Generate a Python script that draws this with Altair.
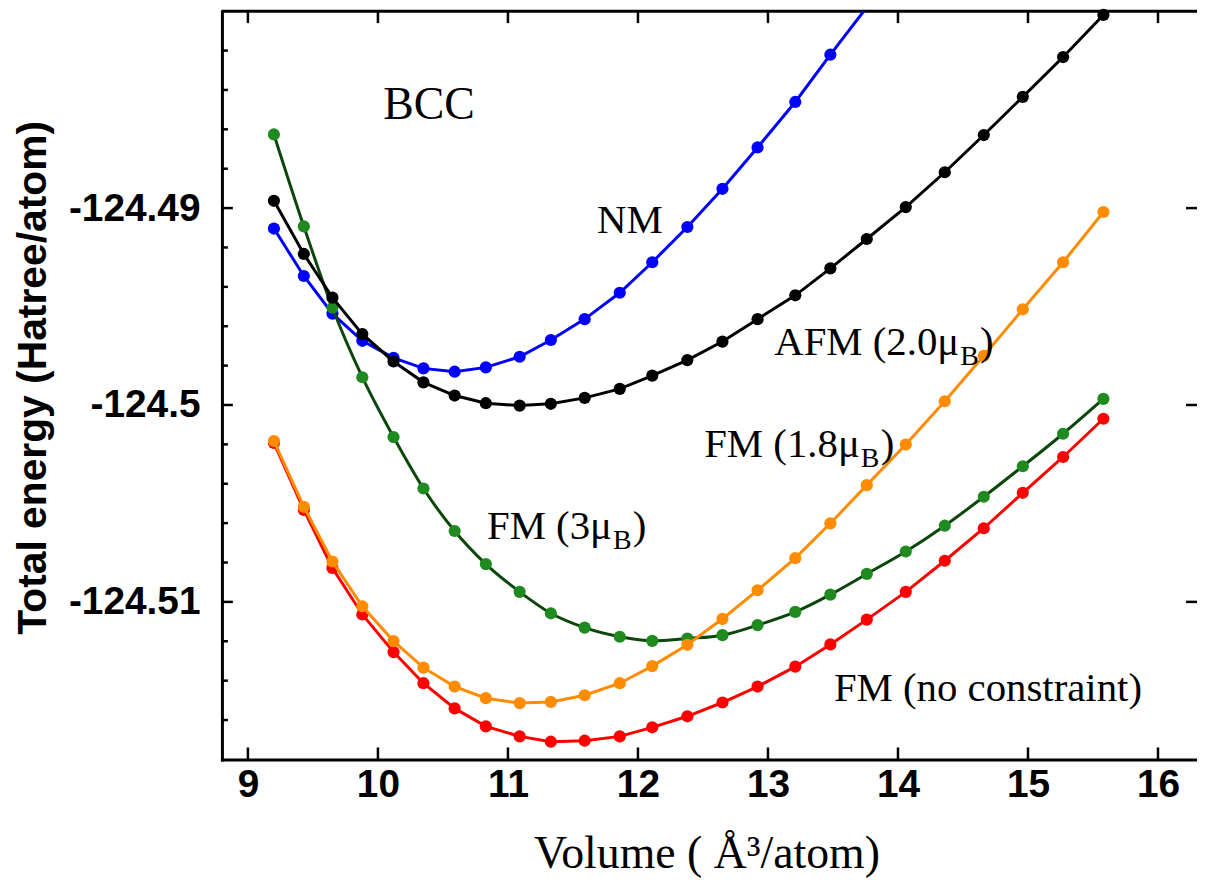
import altair as alt
import pandas as pd

# ---- data ----
volume = [9.20, 9.43, 9.65, 9.88, 10.12, 10.35, 10.59, 10.83, 11.09, 11.33,
          11.59, 11.86, 12.11, 12.38, 12.65, 12.92, 13.21, 13.48, 13.76, 14.06,
          14.36, 14.66, 14.96, 15.27, 15.58]

e_fm_free = [-124.50193, -124.50533, -124.50828, -124.51064, -124.51255, -124.51413,
             -124.51541, -124.51632, -124.51683, -124.51710, -124.51705, -124.51683,
             -124.51637, -124.51581, -124.51511, -124.51430, -124.51329, -124.51216,
             -124.51090, -124.50949, -124.50791, -124.50626, -124.50446, -124.50264,
             -124.50070]

e_fm_18 = [-124.50183, -124.50517, -124.50795, -124.51022, -124.51199, -124.51334,
           -124.51430, -124.51489, -124.51514, -124.51508, -124.51474, -124.51413,
           -124.51326, -124.51218, -124.51086, -124.50941, -124.50778, -124.50601,
           -124.50407, -124.50201, -124.49981, -124.49750, -124.49514, -124.49275,
           -124.49020]

e_fm_3 = [-124.48626, -124.49093, -124.49506, -124.49859, -124.50163, -124.50424,
          -124.50640, -124.50808, -124.50949, -124.51058, -124.51131, -124.51177,
          -124.51198, -124.51186, -124.51169, -124.51118, -124.51051, -124.50963,
          -124.50858, -124.50744, -124.50613, -124.50466, -124.50311, -124.50146,
          -124.49969]

e_afm = [-124.48963, -124.49233, -124.49455, -124.49640, -124.49779, -124.49885,
         -124.49952, -124.49991, -124.50003, -124.49994, -124.49964, -124.49918,
         -124.49851, -124.49772, -124.49678, -124.49564, -124.49443, -124.49306,
         -124.49157, -124.48995, -124.48818, -124.48629, -124.48435, -124.48233,
         -124.48019]

# NM: last value lies just above the top of the frame (line leaves the plot there)
e_nm = [-124.49104, -124.49345, -124.49536, -124.49674, -124.49761, -124.49814,
        -124.49831, -124.49809, -124.49755, -124.49670, -124.49564, -124.49430,
        -124.49275, -124.49096, -124.48902, -124.48692, -124.48461, -124.48221,
        -124.47980]

x_ticks = [9, 10, 11, 12, 13, 14, 15, 16]
y_major = [-124.51, -124.50, -124.49]
y_minor = [-124.516, -124.514, -124.512, -124.508, -124.506, -124.504, -124.502,
           -124.498, -124.496, -124.494, -124.492, -124.488, -124.486, -124.484,
           -124.482]

# annotations (plain labels, left aligned at baseline)
ann_plain = pd.DataFrame({
    "label": ["NM", "FM (no constraint)"],
    "x": [11.685, 13.507],
    "y": [-124.49127, -124.51502],
})
ann_bcc = pd.DataFrame({"label": ["BCC"], "x": [10.04], "y": [-124.48546]})
# labels with subscript B: main part ends at x
ann_sub = pd.DataFrame({
    "label": ["AFM (2.0\u03bc", "FM (1.8\u03bc", "FM (3\u03bc"],
    "x": [14.471, 13.706, 11.80],
    "y": [-124.49748, -124.50264, -124.50683],
})

W, H = 980, 752
xs = alt.Scale(domain=[8.8, 16.3], nice=False, zero=False)
ys = alt.Scale(domain=[-124.518, -124.48], nice=False, zero=False)

xaxis = alt.Axis(values=x_ticks, format="d", ticks=False, tickSize=0, grid=False,
                 domain=True, domainColor="black", domainWidth=3, domainCap="square",
                 labelFont="Liberation Sans", labelFontWeight="bold", labelFontSize=39,
                 labelColor="black", labelPadding=6, labelFlush=False, labelOverlap=False,
                 title="Volume ( \u00c5\u00b3/atom)", titleFont="Liberation Serif",
                 titleFontWeight="normal", titleFontSize=46, titleColor="black",
                 titleX=487, titleY=109, titleBaseline="alphabetic", titleAlign="center")
yaxis = alt.Axis(values=y_major, labelExpr="'-' + format(-datum.value, '.2~f')",
                 ticks=False, tickSize=0, grid=False, domain=True, domainColor="black",
                 domainWidth=3, domainCap="square",
                 labelFont="Liberation Sans", labelFontWeight="bold", labelFontSize=39,
                 labelColor="black", labelPadding=22, labelFlush=False, labelOverlap=False,
                 title="Total energy (Hatree/atom)", titleFont="Liberation Sans",
                 titleFontWeight="bold", titleFontSize=41, titleColor="black",
                 titleAngle=270, titleX=-177, titleY=368, titleBaseline="alphabetic",
                 titleAlign="center")


def X(f):
    return alt.X(f, type="quantitative", scale=xs, axis=xaxis)


def Y(f):
    return alt.Y(f, type="quantitative", scale=ys, axis=yaxis)


def series_df(vals):
    return pd.DataFrame({"V": volume[:len(vals)], "E": vals})


layers = []

# inward tick marks
ymaj = pd.DataFrame({"v": y_major})
ymin = pd.DataFrame({"v": y_minor})
xt = pd.DataFrame({"t": x_ticks})
layers.append(alt.Chart(ymaj).mark_rule(color="black", strokeWidth=2.5)
              .encode(y=Y("v"), x=alt.value(0), x2=alt.value(11)))
layers.append(alt.Chart(ymin).mark_rule(color="black", strokeWidth=2.5)
              .encode(y=Y("v"), x=alt.value(0), x2=alt.value(6)))
layers.append(alt.Chart(ymaj).mark_rule(color="black", strokeWidth=2.5)
              .encode(y=Y("v"), x=alt.value(W - 11), x2=alt.value(W)))
layers.append(alt.Chart(xt).mark_rule(color="black", strokeWidth=2.5)
              .encode(x=X("t"), y=alt.value(H), y2=alt.value(H - 12)))
layers.append(alt.Chart(xt).mark_rule(color="black", strokeWidth=2.5)
              .encode(x=X("t"), y=alt.value(0), y2=alt.value(12)))
# top frame line
layers.append(alt.Chart(pd.DataFrame({"t": [0]})).mark_rule(color="black", strokeWidth=3)
              .encode(x=alt.value(0), x2=alt.value(W), y=alt.value(0)))

series = [
    (e_nm, "#0000ff", "#0000ff", "linear"),
    (e_fm_3, "#0b460b", "#1f8a1f", "monotone"),
    (e_afm, "#000000", "#000000", "linear"),
    (e_fm_free, "#ff0000", "#ff0000", "linear"),
    (e_fm_18, "#ff8c00", "#ff8c00", "linear"),
]
for vals, lc, pc, interp in series:
    d = series_df(vals)
    layers.append(alt.Chart(d).mark_line(color=lc, strokeWidth=3, interpolate=interp, clip=True)
                  .encode(x=X("V"), y=Y("E")))
    layers.append(alt.Chart(d).transform_filter("datum.E <= -124.48")
                  .mark_circle(color=pc, size=150, opacity=1)
                  .encode(x=X("V"), y=Y("E")))

# annotations
layers.append(alt.Chart(ann_plain).mark_text(font="Liberation Serif", fontSize=41, align="left",
                                             baseline="alphabetic", color="black")
              .encode(x=X("x"), y=Y("y"), text="label:N"))
layers.append(alt.Chart(ann_bcc).mark_text(font="Liberation Serif", fontSize=46, align="left",
                                           baseline="alphabetic", color="black")
              .encode(x=X("x"), y=Y("y"), text="label:N"))
layers.append(alt.Chart(ann_sub).mark_text(font="Liberation Serif", fontSize=41, align="right",
                                           baseline="alphabetic", color="black")
              .encode(x=X("x"), y=Y("y"), text="label:N"))
layers.append(alt.Chart(ann_sub).mark_text(font="Liberation Serif", fontSize=28, align="left",
                                           baseline="alphabetic", color="black", dx=1, dy=10)
              .encode(x=X("x"), y=Y("y"), text=alt.value("B")))
layers.append(alt.Chart(ann_sub).mark_text(font="Liberation Serif", fontSize=41, align="left",
                                           baseline="alphabetic", color="black", dx=21)
              .encode(x=X("x"), y=Y("y"), text=alt.value(")")))

chart = alt.layer(*layers).properties(
    width=W, height=H,
    autosize=alt.AutoSizeParams(type="none"),
    padding={"left": 215, "top": 1, "right": 0, "bottom": 119},
).configure_view(stroke=None).configure(background="white")

chart.save("out.html", embed_options={"renderer": "svg", "actions": False})
